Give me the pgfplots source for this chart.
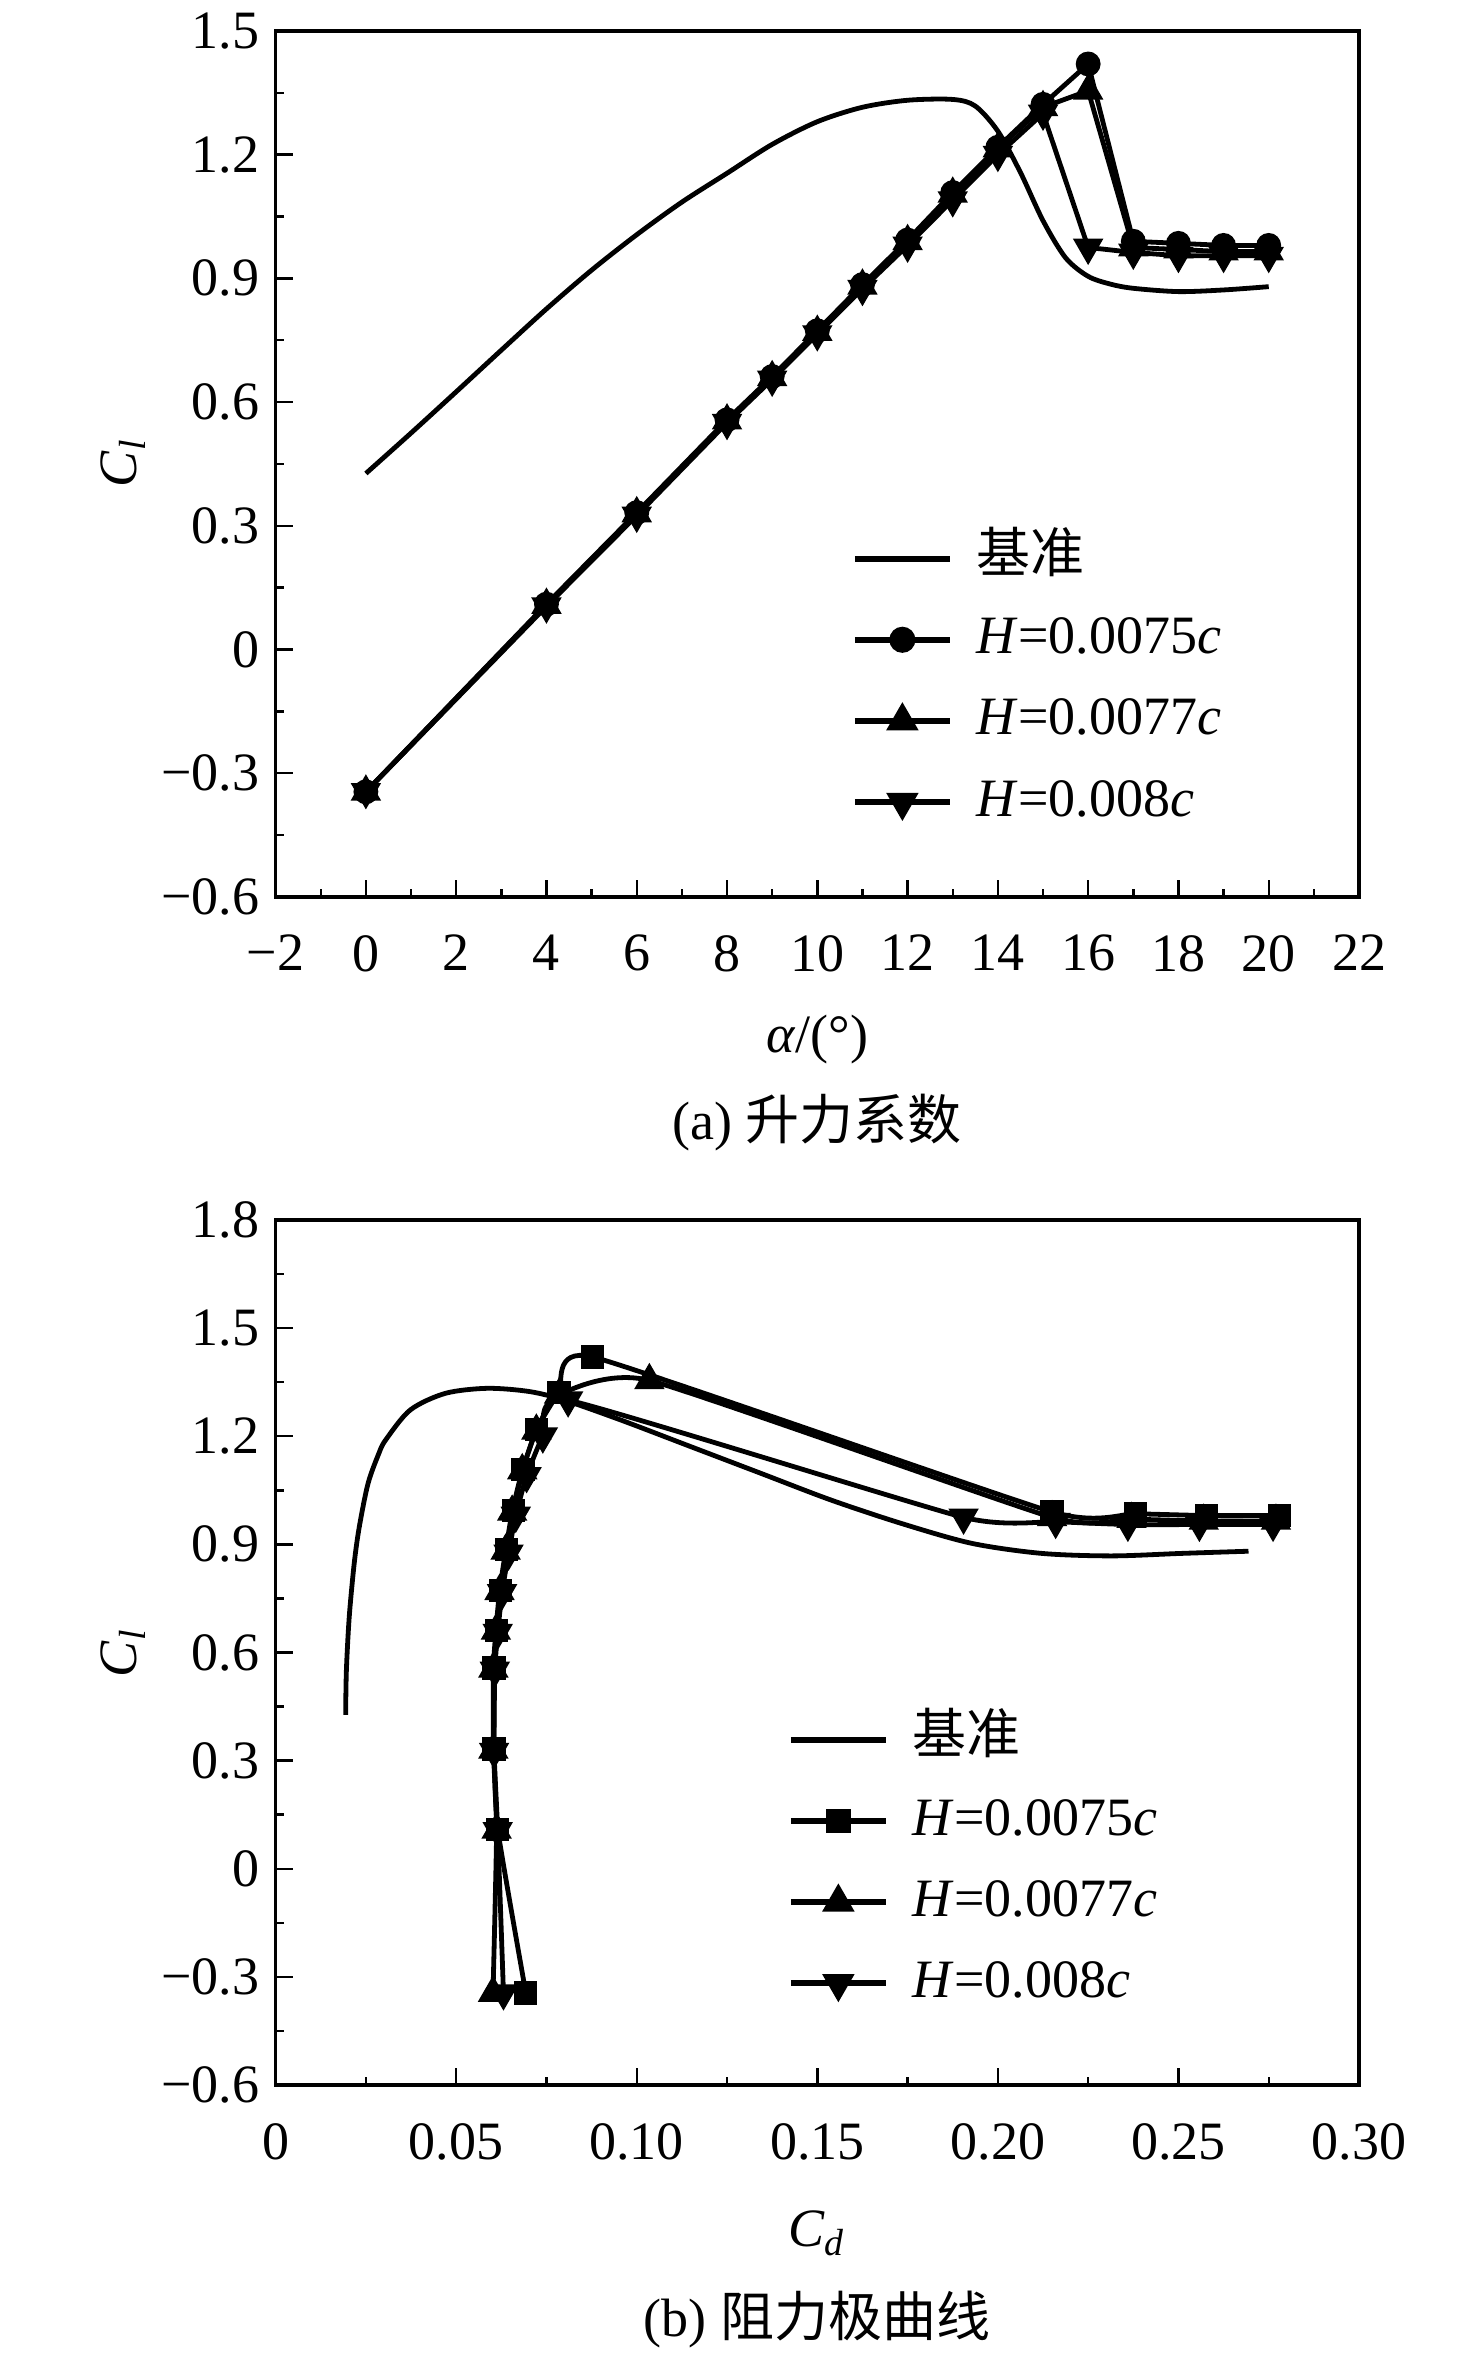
\documentclass[border=0pt]{standalone}
\usepackage{fontspec}
\setmainfont{Liberation Serif}
\newfontfamily\cjk{Noto Sans CJK SC}
\usepackage{pgfplots}
\usepackage{pgfplotstable}
\pgfplotsset{compat=1.18}

% ---------- panel (a): Cl vs alpha ----------
\pgfplotstableread{
a cl
0 0.427
1 0.525
2 0.625
3 0.726
4 0.826
5 0.920
6 1.006
7 1.085
8 1.155
9 1.225
10 1.280
11 1.315
12 1.332
13 1.334
13.5 1.318
14 1.257
14.5 1.157
15 1.040
15.5 0.950
16 0.905
16.5 0.886
17 0.876
18 0.868
19 0.872
20 0.880
}\baseA
\pgfplotstableread{
a cl
0 -0.345
4 0.110
6 0.332
8 0.557
9 0.662
10 0.773
11 0.885
12 0.993
13 1.108
14 1.218
15 1.322
16 1.420
17 0.990
18 0.985
19 0.980
20 0.980
}\hAa
\pgfplotstableread{
a cl
0 -0.345
4 0.108
6 0.330
8 0.555
9 0.660
10 0.770
11 0.882
12 0.990
13 1.105
14 1.215
15 1.315
16 1.355
17 0.975
18 0.970
19 0.965
20 0.965
}\hBa
\pgfplotstableread{
a cl
0 -0.345
4 0.105
6 0.325
8 0.550
9 0.655
10 0.765
11 0.875
12 0.980
13 1.090
14 1.200
15 1.300
16 0.975
17 0.963
18 0.955
19 0.955
20 0.955
}\hCa

% ---------- panel (b): Cl vs Cd ----------
\pgfplotstableread{
cd cl
0.0194 0.427
0.0196 0.55
0.0204 0.70
0.0218 0.85
0.0232 0.95
0.0256 1.069
0.0285 1.15
0.0305 1.19
0.0373 1.273
0.0470 1.319
0.0586 1.333
0.0703 1.324
0.0800 1.300
0.0956 1.245
0.1150 1.171
0.1344 1.097
0.1538 1.023
0.1733 0.958
0.1927 0.903
0.2121 0.875
0.2315 0.868
0.2510 0.875
0.2694 0.881
}\baseB
\pgfplotstableread{
cd cl
0.0693 -0.345
0.0615 0.110
0.0605 0.332
0.0605 0.557
0.0612 0.662
0.0622 0.773
0.0640 0.885
0.0658 0.993
0.0685 1.108
0.0722 1.218
0.0785 1.322
0.0878 1.420
0.2150 0.990
0.2380 0.985
0.2577 0.980
0.2780 0.980
}\hAb
\pgfplotstableread{
cd cl
0.0602 -0.345
0.0612 0.108
0.0603 0.330
0.0603 0.555
0.0610 0.660
0.0620 0.770
0.0637 0.882
0.0655 0.990
0.0683 1.105
0.0722 1.215
0.0785 1.315
0.1035 1.355
0.2150 0.975
0.2370 0.970
0.2570 0.965
0.2770 0.965
}\hBb
\pgfplotstableread{
cd cl
0.0631 -0.345
0.0615 0.105
0.0605 0.325
0.0607 0.550
0.0615 0.655
0.0627 0.765
0.0645 0.875
0.0665 0.980
0.0695 1.090
0.0740 1.200
0.0810 1.300
0.1905 0.975
0.2160 0.963
0.2360 0.955
0.2558 0.955
0.2762 0.955
}\hCb

\pgfplotsset{
  panel/.style={
    scale only axis, width=270.85pt, height=216.5pt,
    axis line style={line width=0.8pt},
    tick align=inside,
    xtick pos=lower, ytick pos=lower,
    major tick length=4.25pt, minor tick length=2pt,
    every tick/.style={line width=0.6pt, black},
    minor x tick num=1, minor y tick num=1,
    xticklabel style={yshift=-6pt},
    yticklabel style={xshift=-0.6pt},
    legend cell align=left,
    legend image code/.code={\draw[##1, line width=1.5pt, mark repeat=2, mark phase=2] plot coordinates {(0pt,0pt) (11.9pt,0pt) (23.8pt,0pt)};},
    legend style={draw=none, fill=none, inner sep=0pt, anchor=north west,
      row sep=9.3pt, nodes={inner sep=0pt, anchor=west, text height=9pt, text depth=2pt},
      /tikz/every odd column/.append style={column sep=6pt}},
  },
  base/.style={black, line width=1.2pt, no marks, smooth},
  ser/.style={black, line width=1.2pt, mark options={solid, fill=black}},
}

\begin{document}
\begin{tikzpicture}[font=\fontsize{13.5}{16}\selectfont]
\path[use as bounding box] (0,0) rectangle (369pt,588.75pt);

\begin{axis}[panel, at={(68.9pt,364.5pt)}, anchor=south west,
  xmin=-2, xmax=22, ymin=-0.6, ymax=1.5,
  xtick={-2,0,2,4,6,8,10,12,14,16,18,20,22},
  xticklabels={−2,0,2,4,6,8,10,12,14,16,18,20,22},
  ytick={-0.6,-0.3,0,0.3,0.6,0.9,1.2,1.5},
  yticklabels={−0.6,−0.3,0,0.3,0.6,0.9,1.2,1.5},
  legend style={at={(0.5311,0.4171)}},
]
\addplot[base] table[x=a, y=cl] {\baseA};
\addlegendentry{{\cjk 基准}}
\addplot[ser, mark=*, mark size=2.5pt] table[x=a, y=cl] {\hAa};
\addlegendentry{\textit{H}=0.0075\textit{c}}
\addplot[ser, mark=triangle*, mark size=3.2pt] table[x=a, y=cl] {\hBa};
\addlegendentry{\textit{H}=0.0077\textit{c}}
\addplot[ser, mark=triangle*, mark size=3.2pt, mark options={solid, fill=black, rotate=180}] table[x=a, y=cl] {\hCa};
\addlegendentry{\textit{H}=0.008\textit{c}}
\end{axis}

\begin{axis}[panel, at={(68.9pt,67.5pt)}, anchor=south west, height=216.25pt,
  xmin=0, xmax=0.30, ymin=-0.6, ymax=1.8,
  xtick={0,0.05,0.10,0.15,0.20,0.25,0.30},
  xticklabels={0,0.05,0.10,0.15,0.20,0.25,0.30},
  ytick={-0.6,-0.3,0,0.3,0.6,0.9,1.2,1.5,1.8},
  yticklabels={−0.6,−0.3,0,0.3,0.6,0.9,1.2,1.5,1.8},
  legend style={at={(0.472,0.4254)}},
]
\addplot[base] table[x=cd, y=cl] {\baseB};
\addlegendentry{{\cjk 基准}}
\addplot[ser, smooth, tension=0.3, mark=square*, mark size=2.3pt] table[x=cd, y=cl] {\hAb};
\addlegendentry{\textit{H}=0.0075\textit{c}}
\addplot[ser, smooth, tension=0.3, mark=triangle*, mark size=3.2pt] table[x=cd, y=cl] {\hBb};
\addlegendentry{\textit{H}=0.0077\textit{c}}
\addplot[ser, smooth, tension=0.3, mark=triangle*, mark size=3.2pt, mark options={solid, fill=black, rotate=180}] table[x=cd, y=cl] {\hCb};
\addlegendentry{\textit{H}=0.008\textit{c}}
\end{axis}

\node at (204.3pt,328.75pt) {\textit{α}/(°)};
\node at (204.3pt,308pt) {(a) {\cjk 升力系数}};
\node[rotate=90] at (30.75pt,473pt) {\textit{C}\textsubscript{\textit{l}}};
\node[rotate=90] at (30.75pt,175.6pt) {\textit{C}\textsubscript{\textit{l}}};
\node at (204.3pt,30.5pt) {\textit{C}\textsubscript{\textit{d}}};
\node at (204.3pt,8.75pt) {(b) {\cjk 阻力极曲线}};
\end{tikzpicture}
\end{document}
